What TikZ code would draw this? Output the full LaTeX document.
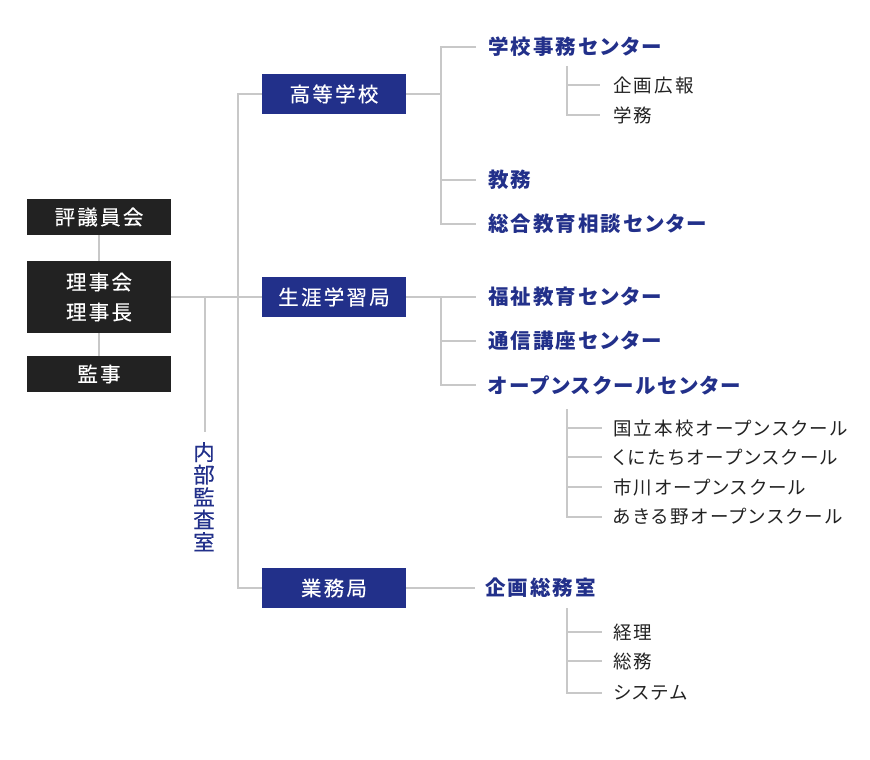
\documentclass[tikz,border=0pt]{standalone}
\usepackage{fontspec}
\usepackage{xcolor}
\usepackage{tikz}
\newfontfamily\jpbox[LetterSpace=11, FakeBold=0.4]{Noto Sans CJK JP}
\newfontfamily\jp[LetterSpace=12, RawFeature=+palt]{Noto Sans CJK JP}
\newfontfamily\jpdept[LetterSpace=10, RawFeature=+palt]{Noto Sans CJK JP}
\definecolor{navy}{HTML}{22308A}
\definecolor{boxdark}{HTML}{222222}
\definecolor{linegray}{HTML}{C8C8C8}
\definecolor{inkblack}{HTML}{222222}
\tikzset{
  darkbox/.style={fill=boxdark, text=white, minimum width=144pt, minimum height=36pt,
    inner sep=0pt, font=\jpbox\fontsize{20.5}{30}\selectfont, align=center},
  bluebox/.style={fill=navy, text=white, minimum width=144pt, minimum height=40pt,
    inner sep=0pt, font=\jpbox\fontsize{20.5}{24}\selectfont},
  dept/.style={anchor=west, inner sep=0pt, text=navy, font=\jpdept\bfseries\fontsize{20.5}{24}\selectfont},
  unit/.style={anchor=west, inner sep=0pt, text=inkblack, font=\jp\fontsize{18.5}{24}\selectfont},
  conn/.style={draw=linegray, line width=2pt}
}
\begin{document}
\begin{tikzpicture}[x=1pt, y=-1pt]
    \useasboundingbox (0,0) rectangle (870,760);
    % board side
    \node[darkbox] (council) at (99,217) {評議員会};
    \node[darkbox, minimum height=72pt] (board) at (99,297) {理事会\\理事長};
    \node[darkbox] (auditor) at (99,374) {監事};
    \node[inner sep=0pt, text=navy, align=center, anchor=north,
      font=\jpbox\fontsize{21.5}{22.5}\selectfont] (audit) at (204,442) {内\\部\\監\\査\\室};
    % divisions
    \node[bluebox] (hs) at (334,94) {高等学校};
    \node[bluebox] (lifelong) at (334,297) {生涯学習局};
    \node[bluebox] (business) at (334,588) {業務局};
    % departments
    \node[dept] (sjc) at (488,47) {学校事務センター};
    \node[dept] (kyomu) at (488,180) {教務};
    \node[dept] (sogo) at (488,224) {総合教育相談センター};
    \node[dept] (fukushi) at (488,297) {福祉教育センター};
    \node[dept] (tsushin) at (488,341) {通信講座センター};
    \node[dept] (open) at (488,385) {オープンスクールセンター};
    \node[dept] (kikaku) at (485,588) {企画総務室};
    % units
    \node[unit] (koho) at (613,85) {企画広報};
    \node[unit] (gakumu) at (613,115) {学務};
    \node[unit] (honko) at (613,428) {国立本校オープンスクール};
    \node[unit] (kunitachi) at (613,457) {くにたちオープンスクール};
    \node[unit] (ichikawa) at (613,487) {市川オープンスクール};
    \node[unit] (akiruno) at (613,517) {あきる野オープンスクール};
    \node[unit] (keiri) at (613,632) {経理};
    \node[unit] (somu) at (613,661) {総務};
    \node[unit] (system) at (613,693) {システム};
    % junctions
    \coordinate (trunk) at (238,0);
    \coordinate (audtop) at (205,297);
    \coordinate (audbot) at (205,432);
    \coordinate (j1) at (441,0);
    \coordinate (sjcsub) at (567,66);
    \coordinate (opensub) at (567,409);
    \coordinate (kikakusub) at (567,608);
    % connectors
    \draw[conn] (council.south) -- (board.north);
    \draw[conn] (board.south) -- (auditor.north);
    \draw[conn] (board.east) -- (lifelong.west);
    \draw[conn] (audtop) -- (audbot);
    \draw[conn] (hs.west) -- (hs.west -| trunk) |- (business.west);
    \draw[conn] (hs.east) -- (j1 |- hs.east);
    \draw[conn] ([xshift=-12pt]sjc.west) -| (j1 |- sogo.west) -- ([xshift=-12pt]sogo.west);
    \draw[conn] (j1 |- kyomu.west) -- ([xshift=-12pt]kyomu.west);
    \draw[conn] (lifelong.east) -- ([xshift=-12pt]fukushi.west);
    \draw[conn] (j1 |- fukushi.west) |- ([xshift=-12pt]open.west);
    \draw[conn] (j1 |- tsushin.west) -- ([xshift=-12pt]tsushin.west);
    \draw[conn] (business.east) -- ([xshift=-10pt]kikaku.west);
    \draw[conn] (sjcsub) |- ([xshift=-13pt]gakumu.west);
    \draw[conn] (sjcsub |- koho.west) -- ([xshift=-13pt]koho.west);
    \draw[conn] (opensub) |- ([xshift=-11pt]akiruno.west);
    \foreach \n in {honko,kunitachi,ichikawa}
      \draw[conn] (opensub |- \n.west) -- ([xshift=-11pt]\n.west);
    \draw[conn] (kikakusub) |- ([xshift=-11pt]system.west);
    \foreach \n in {keiri,somu}
      \draw[conn] (kikakusub |- \n.west) -- ([xshift=-11pt]\n.west);
\end{tikzpicture}
\end{document}
